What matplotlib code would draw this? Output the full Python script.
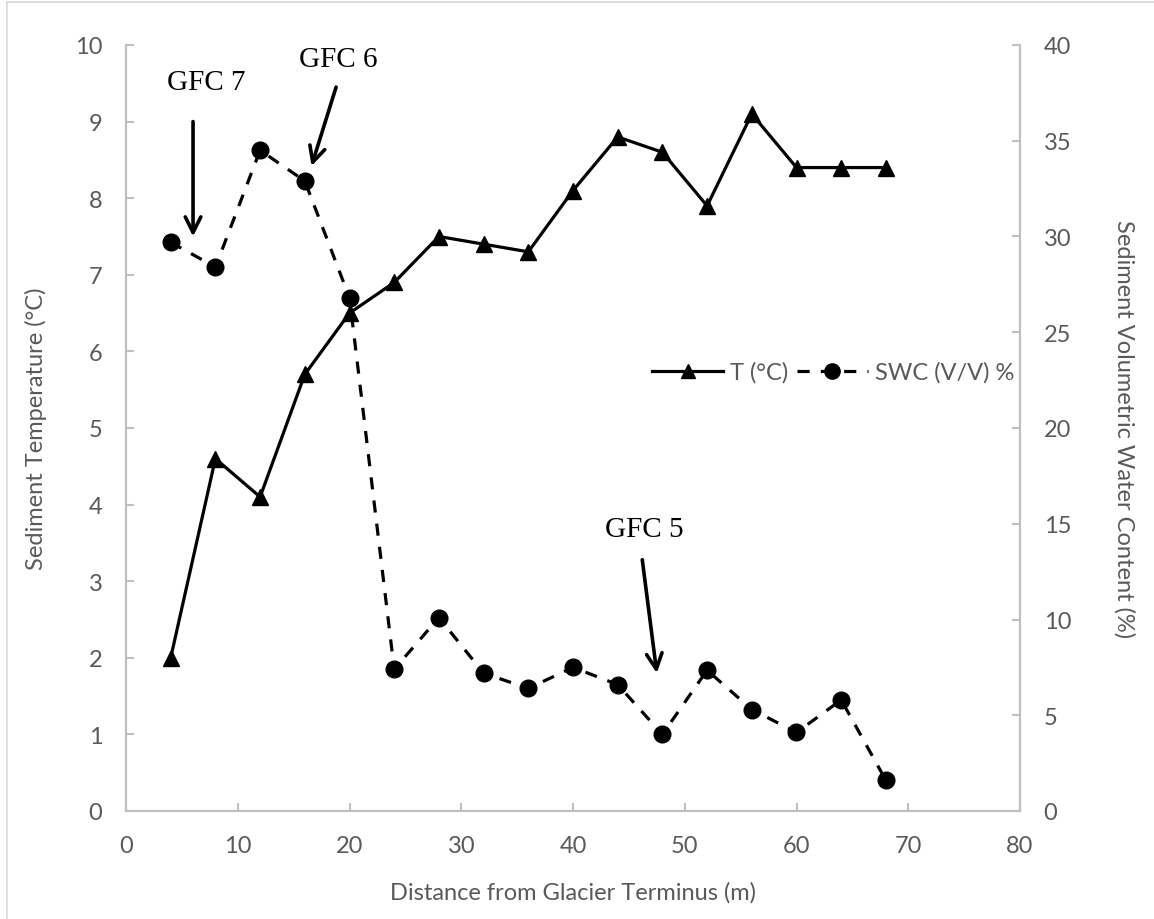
import matplotlib
matplotlib.use("Agg")
import matplotlib.pyplot as plt
from matplotlib.lines import Line2D

# distance from the glacier terminus (m)
distance = [4, 8, 12, 16, 20, 24, 28, 32, 36, 40, 44, 48, 52, 56, 60, 64, 68]
# sediment temperature (°C)
temperature = [2.0, 4.6, 4.1, 5.7, 6.5, 6.9, 7.5, 7.4, 7.3, 8.1, 8.8, 8.6, 7.9, 9.1, 8.4, 8.4, 8.4]
# sediment volumetric water content (%)
swc = [29.7, 28.4, 34.5, 32.9, 26.8, 7.4, 10.1, 7.2, 6.4, 7.5, 6.6, 4.0, 7.35, 5.3, 4.1, 5.8, 1.6]

x_ticks = [0, 10, 20, 30, 40, 50, 60, 70, 80]
left_ticks = list(range(0, 11))
right_ticks = [0, 5, 10, 15, 20, 25, 30, 35, 40]

# site labels: (text, text position, arrow start, arrow tip) in temperature-axis units
sites = [
    ("GFC 7", (7.2, 9.52), (6.0, 9.0), (6.0, 7.5)),
    ("GFC 6", (19.0, 9.82), (18.8, 9.45), (16.6, 8.42)),
    ("GFC 5", (46.4, 3.68), (46.2, 3.28), (47.5, 1.8)),
]

GRID_GREY = "#bfbfbf"
TEXT_GREY = "#595959"
FS = 17
plt.rcParams["font.family"] = ["Lato", "DejaVu Sans"]

fig = plt.figure(figsize=(11.54, 9.2), dpi=100)
ax = fig.add_axes([126 / 1154, 1 - 812 / 920, 894 / 1154, 766 / 920])
ax2 = ax.twinx()

ax.plot(distance, temperature, color="black", lw=2.3, marker="^", ms=12,
        zorder=3, label="T (°C)")
ax2.plot(distance, swc, color="black", lw=2.3, ls=(0, (3.8, 3.5)), marker="o",
         ms=12, zorder=3, label="SWC (V/V) %")

ax.set_xlim(0, 80)
ax.set_ylim(0, 10)
ax2.set_ylim(0, 40)
ax.set_xticks(x_ticks)
ax.set_yticks(left_ticks)
ax2.set_yticks(right_ticks)

for a in (ax, ax2):
    a.spines["top"].set_visible(False)
    for side in ("left", "right", "bottom"):
        a.spines[side].set_color(GRID_GREY)
        a.spines[side].set_linewidth(1.5)
    a.tick_params(direction="in", length=6, width=1.5, color=GRID_GREY,
                  labelcolor=TEXT_GREY, labelsize=FS, pad=17)

ax.set_xlabel("Distance from Glacier Terminus (m)", color=TEXT_GREY, fontsize=FS, labelpad=18)
ax.set_ylabel("Sediment Temperature (°C)", color=TEXT_GREY, fontsize=FS, labelpad=20)
ax2.set_ylabel("Sediment Volumetric Water Content (%)", color=TEXT_GREY, fontsize=FS,
               rotation=270, labelpad=46)

for text, text_xy, start, tip in sites:
    ax.text(*text_xy, text, family="Liberation Serif", fontsize=21,
            ha="center", va="center", color="black")
    ax.annotate("", xy=tip, xytext=start,
                arrowprops=dict(arrowstyle="->", color="black", lw=2.6,
                                mutation_scale=28, shrinkA=0, shrinkB=0))

handles = [
    Line2D([], [], color="black", lw=2.3, marker="^", ms=10),
    Line2D([], [], color="black", lw=2.3, ls=(0, (3.8, 3.5)), marker="o", ms=11),
]
leg = ax.legend(handles, ["T (°C)", "SWC (V/V) %"], loc="center",
                bbox_to_anchor=(0.791, 0.573), ncol=2, frameon=False,
                fontsize=FS, handlelength=3.0, columnspacing=0.35, handletextpad=0.3)
for t in leg.get_texts():
    t.set_color(TEXT_GREY)

# thin frame on the left and top edges of the figure
fig.add_artist(Line2D([7 / 1154, 7 / 1154], [0, 1 - 3 / 920], color="#d9d9d9", lw=1.2))
fig.add_artist(Line2D([7 / 1154, 1], [1 - 3 / 920, 1 - 3 / 920], color="#d9d9d9", lw=1.2))

fig.savefig("out.png", dpi=100)
